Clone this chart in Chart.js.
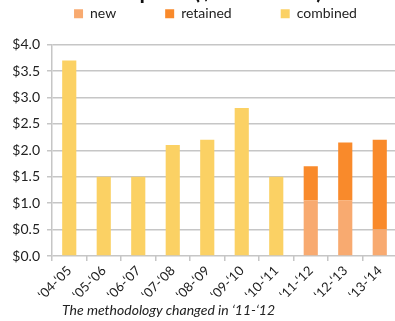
<!DOCTYPE html>
<html>
<head>
<meta charset="utf-8">
<script src="https://cdn.jsdelivr.net/npm/chart.js@4"></script>
<style>
  html, body { margin: 0; padding: 0; background: #fff; overflow: hidden; }
  body { width: 395px; height: 321px; position: relative; }
  #wrap { position: absolute; left: 0; top: -45px; width: 400px; height: 366px; }
  #note {
    position: absolute; left: 62px; top: 302px;
    font: italic 14px Lato, sans-serif; color: #222; line-height: 16px;
  }
</style>
</head>
<body>
<div id="wrap"><canvas id="barChart"></canvas></div>
<div id="note">The methodology changed in ‘11-‘12</div>
<script>
  const years = ["‘04-‘05", "‘05-‘06", "‘06-‘07", "‘07-‘08", "‘08-‘09",
                 "‘09-‘10", "‘10-‘11", "‘11-‘12", "‘12-‘13", "‘13-‘14"];
  const newVals = [null, null, null, null, null, null, null, 1.05, 1.05, 0.5];
  const retainedVals = [null, null, null, null, null, null, null, 0.65, 1.1, 1.7];
  const combinedVals = [3.7, 1.5, 1.5, 2.1, 2.2, 2.8, 1.5, null, null, null];
  const yTicks = [0, 0.5, 1, 1.5, 2, 2.5, 3, 3.5, 4];

  const gridColor = "#c6c6c6";
  const font = "Lato";

  // the legend row sits right of centre in the original
  const legendShift = {
    id: "legendShift",
    afterLayout(chart) {
      chart.legend.left += 17;
      chart.legend.right += 17;
    }
  };

  const ctx = document.getElementById("barChart");

  new Chart(ctx, {
    type: "bar",
    data: {
      labels: years,
      datasets: [
        { label: "new", data: newVals, backgroundColor: "#f8aa70" },
        { label: "retained", data: retainedVals, backgroundColor: "#f98a2b" },
        { label: "combined", data: combinedVals, backgroundColor: "#fbd164" }
      ]
    },
    plugins: [legendShift],
    options: {
      responsive: true,
      maintainAspectRatio: false,
      animation: false,
      layout: { padding: { left: 0, right: 3, top: 0, bottom: 0 } },
      datasets: {
        bar: { categoryPercentage: 1, barPercentage: 0.41 }
      },
      plugins: {
        title: {
          display: true,
          text: "Total Spend ($ in millions)",
          color: "#111",
          font: { family: font, size: 22, weight: "bold", lineHeight: 1.2 },
          padding: { top: 24, bottom: -47.7 }
        },
        legend: {
          position: "top",
          labels: {
            boxWidth: 9,
            boxHeight: 9,
            padding: 49,
            color: "#222",
            font: { family: font, size: 14 }
          }
        },
        tooltip: { enabled: false }
      },
      scales: {
        x: {
          stacked: true,
          grid: {
            drawOnChartArea: false,
            drawTicks: true,
            tickLength: 5,
            color: gridColor,
            lineWidth: 1.5
          },
          border: { display: false },
          ticks: {
            color: "#222",
            font: { family: font, size: 13 },
            minRotation: 45,
            maxRotation: 45,
            padding: 2
          },
          afterFit: s => { s.height = 65; }
        },
        xTop: {
          type: "category",
          position: "top",
          grid: { display: false },
          border: { display: false },
          ticks: { display: false },
          afterFit: s => { s.height = 14; }
        },
        y: {
          stacked: true,
          min: 0,
          max: 4,
          afterBuildTicks: s => { s.ticks = yTicks.map(v => ({ value: v })); },
          grid: { color: gridColor, lineWidth: 1.5, tickLength: 5 },
          border: { color: gridColor, width: 1.5 },
          ticks: {
            color: "#222",
            padding: 7,
            font: { family: font, size: 14 },
            callback: v => "$" + Number(v).toFixed(1)
          },
          afterFit: s => { s.width = 52; }
        }
      }
    }
  });
</script>
</body>
</html>
